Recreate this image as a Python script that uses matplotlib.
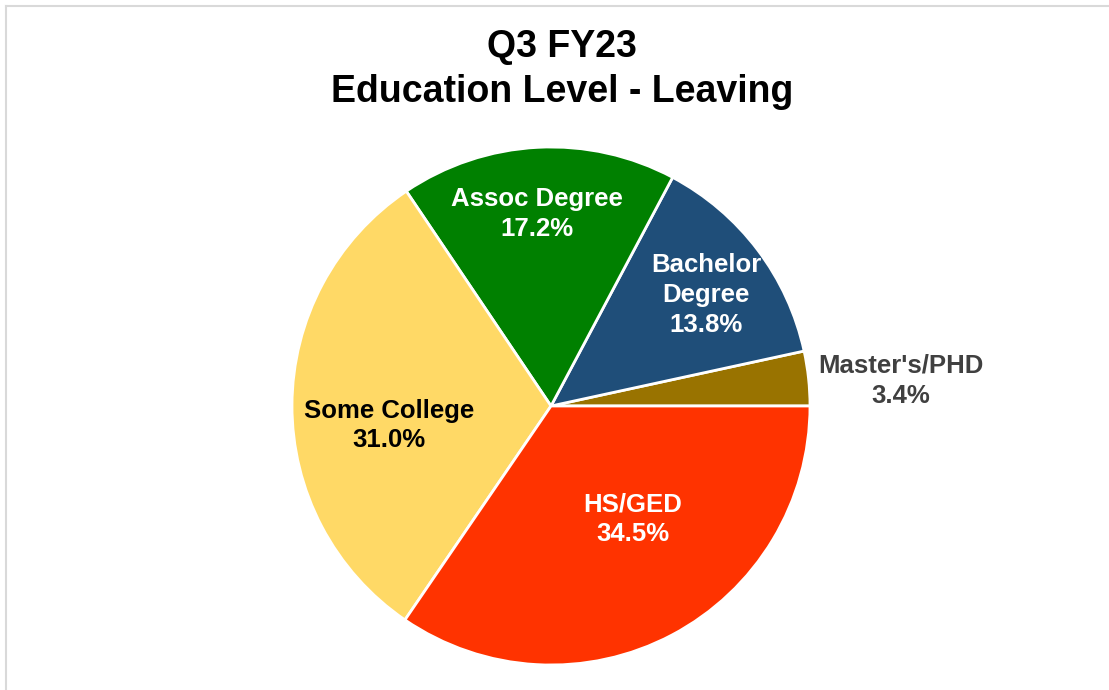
import matplotlib
matplotlib.use("Agg")
import matplotlib.pyplot as plt
from matplotlib.lines import Line2D
import numpy as np

# ---- data ----
categories = ["Master's/PHD", "Bachelor\nDegree", "Assoc Degree", "Some College", "HS/GED"]
values = [3.4, 13.8, 17.2, 31.0, 34.5]
title_lines = ["Q3 FY23", "Education Level - Leaving"]

# ---- style ----
colors = ["#997300", "#1F4E79", "#008000", "#FFD966", "#FF3300"]
text_colors = ["#404040", "white", "white", "black", "white"]
label_r = [1.355, 0.736, 0.743, 0.63, 0.54]
label_dtheta = [-2.0, -1.5, 1.3, 7.0, 8.0]

plt.rcParams['font.family'] = ['Liberation Sans', 'DejaVu Sans']

W, H = 1109, 690
fig = plt.figure(figsize=(W / 100, H / 100), dpi=100)
fig.patch.set_facecolor("white")

# border lines (top and left)
fig.add_artist(Line2D([5.5 / W, 5.5 / W], [0, 1 - 5.5 / H], transform=fig.transFigure,
                      color="#d9d9d9", lw=1.5))
fig.add_artist(Line2D([5.5 / W, 1], [1 - 5.5 / H, 1 - 5.5 / H], transform=fig.transFigure,
                      color="#d9d9d9", lw=1.5))

cx, cy, R = 551, 406, 259
ax = fig.add_axes([(cx - R) / W, (H - cy - R) / H, 2 * R / W, 2 * R / H])

wedges, _ = ax.pie(values, colors=colors, startangle=0, counterclock=True, radius=1,
                   wedgeprops=dict(edgecolor="white", linewidth=2))
ax.set_xlim(-1, 1)
ax.set_ylim(-1, 1)
ax.set_aspect("equal")
ax.axis("off")

for w, cat, v, tc, r, dt in zip(wedges, categories, values, text_colors, label_r, label_dtheta):
    mid = np.deg2rad((w.theta1 + w.theta2) / 2 + dt)
    ax.text(r * np.cos(mid), r * np.sin(mid), f"{cat}\n{v:.1f}%", ha="center", va="center",
            fontsize=18.5, fontweight="bold", color=tc, linespacing=1.3, clip_on=False)

fig.text(562 / W, 1 - 47 / H, title_lines[0], ha="center", va="center",
         fontsize=27, fontweight="bold", color="black")
fig.text(562 / W, 1 - 92 / H, title_lines[1], ha="center", va="center",
         fontsize=27, fontweight="bold", color="black")

fig.savefig("out.png", dpi=100, facecolor="white")
